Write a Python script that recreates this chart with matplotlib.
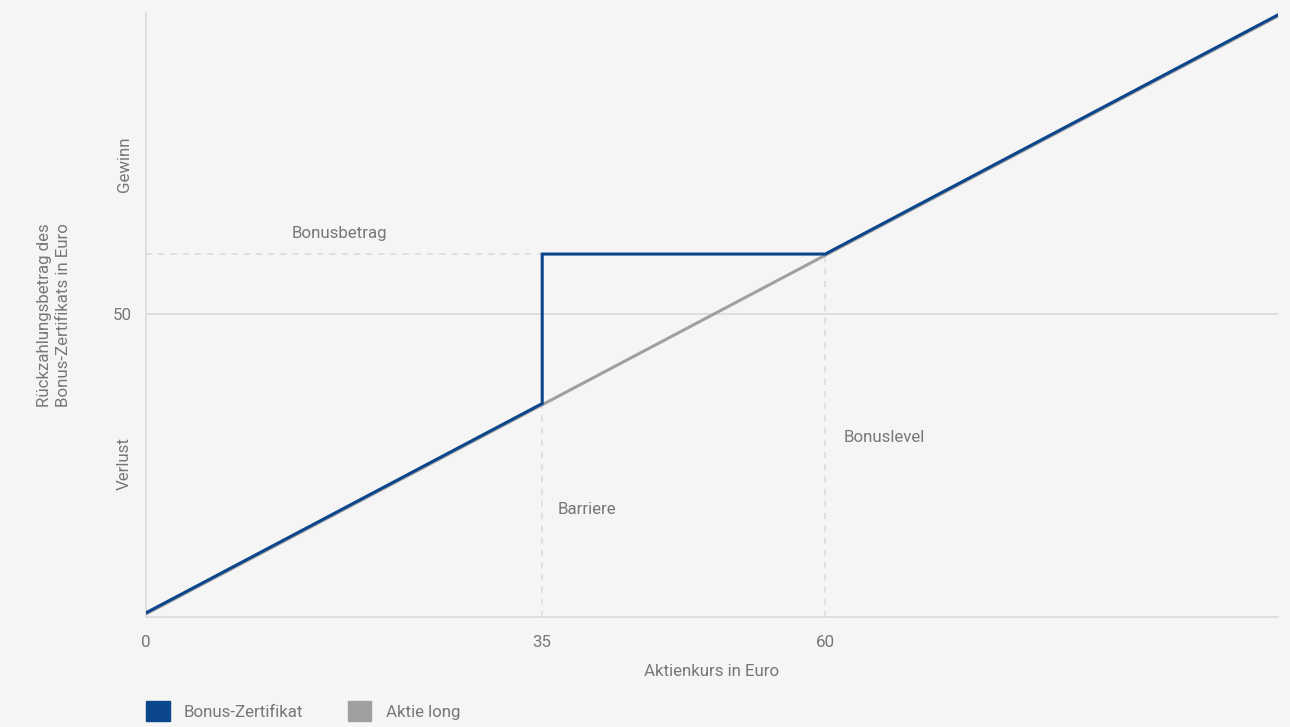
import matplotlib.pyplot as plt
from matplotlib.patches import Patch
from matplotlib.transforms import ScaledTranslation

# Kursachse und Auszahlungsprofile
kurs = [0, 35, 35, 60, 100]
bonus_zertifikat = [0, 35, 60, 60, 100]
aktie_kurs = [0, 100]
aktie_long = [0, 100]

barriere = 35
bonuslevel = 60
bonusbetrag = 60

x_ticks = [0, 35, 60]
y_ticks = [25, 50, 75]
y_tick_labels = ["Verlust", "50", "Gewinn"]

BLUE = "#0b468c"
GREY = "#a0a0a0"
TEXT = "#777777"
GRID = "#dadada"
BG = "#f5f5f5"

plt.rcParams["font.family"] = ["Roboto", "DejaVu Sans"]
FS = 12.2

fig = plt.figure(figsize=(12.9, 7.27), dpi=100, facecolor=BG)
ax = fig.add_axes([0.1132, 0.1513, 0.8775, 0.8307], facecolor=BG)

ax.set_xlim(0, 100)
ax.set_ylim(-0.7, 100.3)

# Hilfslinien
dash = (0, (4, 4))
ax.axhline(50, color=GRID, lw=1.2, zorder=1)
ax.plot([0, barriere], [bonusbetrag, bonusbetrag], color=GRID, lw=1.1,
        ls=dash, zorder=1)
ax.plot([barriere, barriere], [-0.7, barriere], color=GRID, lw=1.1,
        ls=dash, zorder=1)
ax.plot([bonuslevel, bonuslevel], [-0.7, bonuslevel], color=GRID, lw=1.1,
        ls=dash, zorder=1)

# Aktie um gut einen Pixel nach unten versetzt, damit sie unter dem Zertifikat sichtbar bleibt
shift = ScaledTranslation(0, -1.2 / 100, fig.dpi_scale_trans)
ax.plot(aktie_kurs, aktie_long, color=GREY, lw=2.2, zorder=2,
        transform=ax.transData + shift)
ax.plot(kurs, bonus_zertifikat, color=BLUE, lw=2.2, zorder=3,
        solid_joinstyle="miter")

# Beschriftungen im Diagramm
ax.text(17.1, 63.5, "Bonusbetrag", color=TEXT, fontsize=FS,
        ha="center", va="center")
ax.text(36.4, 17.2, "Barriere", color=TEXT, fontsize=FS,
        ha="left", va="center")
ax.text(61.6, 29.4, "Bonuslevel", color=TEXT, fontsize=FS,
        ha="left", va="center")

for side in ["top", "right"]:
    ax.spines[side].set_visible(False)
for side in ["left", "bottom"]:
    ax.spines[side].set_color(GRID)
    ax.spines[side].set_linewidth(1.2)

ax.set_xticks(x_ticks)
ax.set_xticklabels([str(t) for t in x_ticks])
ax.set_yticks(y_ticks)
ax.set_yticklabels(y_tick_labels)
ax.tick_params(length=0, colors=TEXT, labelsize=FS)
ax.tick_params(axis="x", pad=13)
ax.tick_params(axis="y", pad=10)
for lbl in ax.get_yticklabels():
    if lbl.get_text() != "50":
        lbl.set_rotation(90)
        lbl.set_va("center")

ax.set_xlabel("Aktienkurs in Euro", color=TEXT, fontsize=FS, labelpad=10)
fig.text(54 / 1290, 1 - 315 / 727,
         "Rückzahlungsbetrag des\nBonus-Zertifikats in Euro",
         color=TEXT, fontsize=FS, rotation=90, ha="center", va="center",
         linespacing=1.4)

# Legende
handles = [Patch(color=BLUE, label="Bonus-Zertifikat"),
           Patch(color=GREY, label="Aktie long")]
leg = fig.legend(handles=handles, loc="lower left",
                 bbox_to_anchor=(134 / 1290, -0.008), ncol=2, frameon=False,
                 handlelength=1.4, handleheight=1.4, handletextpad=0.85,
                 columnspacing=2.6, fontsize=FS, borderaxespad=0.3)
for t in leg.get_texts():
    t.set_color(TEXT)

fig.savefig("out.png", dpi=100, facecolor=BG)
